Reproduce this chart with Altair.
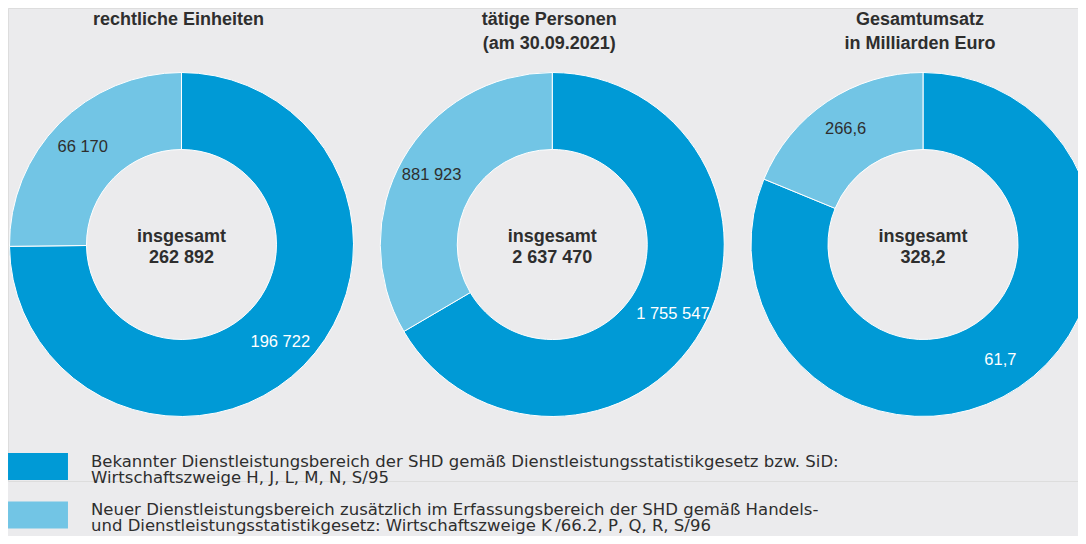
import altair as alt
import pandas as pd

# ---- data ----
chart_titles = ["rechtliche Einheiten", "tätige Personen\n(am 30.09.2021)", "Gesamtumsatz\nin Milliarden Euro"]
totals = ["262 892", "2 637 470", "328,2"]
categories = [
    "Bekannter Dienstleistungsbereich der SHD gemäß Dienstleistungsstatistikgesetz bzw. SiD:\nWirtschaftszweige H, J, L, M, N, S/95",
    "Neuer Dienstleistungsbereich zusätzlich im Erfassungsbereich der SHD gemäß Handels-\nund Dienstleistungsstatistikgesetz: Wirtschaftszweige K\u2009/66.2, P, Q, R, S/96",
]
known_values = [196722, 1755547, 266.6]
new_values = [66170, 881923, 61.7]
known_labels = ["196 722", "1 755 547", "61,7"]
new_labels = ["66 170", "881 923", "266,6"]

DARK = "#009ad6"
LIGHT = "#72c5e5"
BG = "#ebebed"
TXT = "#2e2e2e"
FONT = "Liberation Sans"
LEGEND_FONT = "DejaVu Sans"

rows = []
for i in range(3):
    rows.append({"idx": i, "cat": categories[0], "order": 0, "value": known_values[i], "label": known_labels[i]})
    rows.append({"idx": i, "cat": categories[1], "order": 1, "value": new_values[i], "label": new_labels[i]})
df = pd.DataFrame(rows)

centers = pd.DataFrame({"idx": [0, 1, 2], "center": ["insgesamt\n" + t for t in totals], "title": chart_titles})

xscale = alt.Scale(domain=[0, 2], range=[173.5, 915])
X = alt.X("idx:Q", scale=xscale, axis=None, stack=False)
tscale = alt.Scale(domain=[0, 1], range=[0, 6.283185307179586])

base = (
    alt.Chart(df)
    .transform_joinaggregate(total="sum(value)", groupby=["idx"])
    .transform_window(cum="sum(value)", groupby=["idx"], sort=[alt.SortField("order")])
    .transform_calculate(
        f0="(datum.cum-datum.value)/datum.total",
        f1="datum.cum/datum.total",
        fm="(datum.cum-datum.value/2)/datum.total",
    )
)

arcs = base.mark_arc(radius=172, radius2=95, stroke="white", strokeWidth=1).encode(
    x=X,
    theta=alt.Theta("f0:Q", scale=tscale, stack=False),
    theta2="f1:Q",
    color=alt.Color(
        "cat:N",
        scale=alt.Scale(domain=categories, range=[DARK, LIGHT]),
        legend=alt.Legend(
            title=None,
            orient="none",
            legendX=16.5,
            legendY=445,
            direction="vertical",
            symbolType="M-2.22,-1L2.22,-1L2.22,1L-2.22,1Z",
            symbolSize=729,
            symbolStrokeWidth=0,
            symbolOpacity=1,
            labelOffset=39.5,
            labelFont=LEGEND_FONT,
            labelFontSize=16.5,
            labelColor=TXT,
            labelLimit=0,
            labelBaseline="alphabetic",
            labelExpr="split(datum.label, '\\n')",
            rowPadding=15.5,
        ),
    ),
)

values = base.mark_text(radius=139, font=FONT, fontSize=16.5, baseline="middle", align="center").encode(
    x=X,
    theta=alt.Theta("fm:Q", scale=tscale, stack=False),
    text="label:N",
    color=alt.condition("datum.order == 0", alt.value("white"), alt.value(TXT)),
)

center_text = alt.Chart(centers).mark_text(
    font=FONT, fontSize=18, fontWeight="bold", lineBreak="\n", lineHeight=21,
    baseline="middle", align="center", color=TXT, dy=-8,
).encode(x=X, text="center:N")

titles = alt.Chart(centers).mark_text(
    font=FONT, fontSize=18, fontWeight="bold", lineBreak="\n", lineHeight=24,
    baseline="top", align="center", color=TXT, dx=-3,
).encode(x=X, y=alt.value(3), text="title:N")

chart = (
    alt.layer(arcs, values, center_text, titles)
    .properties(
        width=1070,
        height=473,
        background=BG,
        autosize=alt.AutoSizeParams(type="none"),
        padding={"left": 0, "top": 0, "right": 0, "bottom": 55},
    )
    .configure_view(stroke=None)
    .configure(style={"guide-label": {"lineHeight": 16}})
)

chart.save("out.html", embed_options={"renderer": "svg", "actions": False})
